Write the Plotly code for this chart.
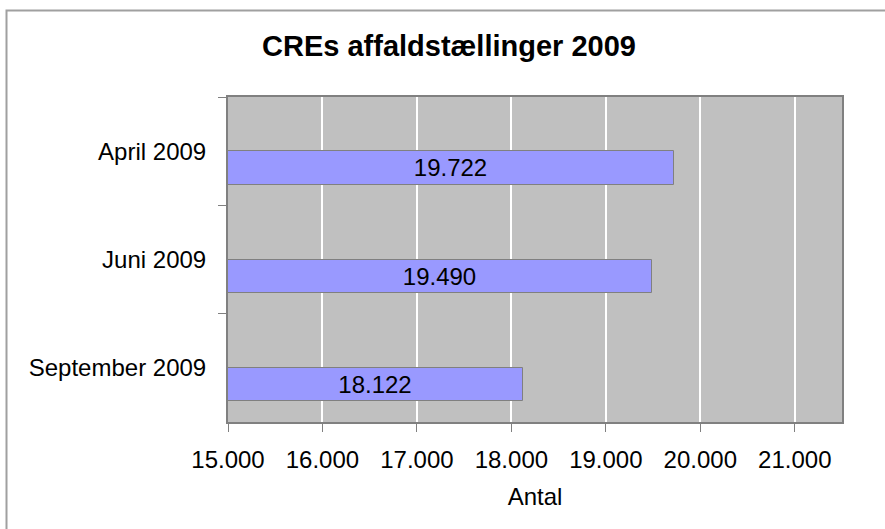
import plotly.graph_objects as go

categories = ["April 2009", "Juni 2009", "September 2009"]
values = [19722, 19490, 18122]
x_ticks = [15000, 16000, 17000, 18000, 19000, 20000, 21000]
x_min, x_max = 15000, 21500

W, H = 885, 529
ML, MR, MT, MB = 228, 43, 97, 107
PW, PH = W - ML - MR, H - MT - MB
FONT = "Liberation Sans, Arial, sans-serif"

fig = go.Figure()
fig.add_trace(go.Bar(
    y=categories,
    x=[v - x_min for v in values],
    base=x_min,
    customdata=values,
    orientation="h",
    offset=0.0, width=0.31,
    marker=dict(color="#9999FF", line=dict(color="#808080", width=1)),
    texttemplate="%{customdata:,.0f}", textposition="inside", insidetextanchor="middle",
    textfont=dict(family=FONT, size=24, color="black"),
    constraintext="none",
    hoverinfo="skip",
))

def px_to_paper_x(px):
    return (px - ML) / PW

def px_to_paper_y(py):
    return 1 - (py - MT) / PH

# outer chart frame (decoration)
fig.add_shape(type="rect", xref="paper", yref="paper",
              x0=px_to_paper_x(6.5), x1=px_to_paper_x(W + 20),
              y0=px_to_paper_y(H + 20), y1=px_to_paper_y(10.5),
              line=dict(color="#A0A0A0", width=2), fillcolor="rgba(0,0,0,0)", layer="below")

fig.update_layout(
    width=W, height=H,
    margin=dict(l=ML, r=MR, t=MT, b=MB, autoexpand=False),
    paper_bgcolor="white", plot_bgcolor="#C0C0C0",
    separators=",.",
    showlegend=False,
    font=dict(family=FONT, size=24, color="black"),
    title=dict(text="<b>CREs affaldstællinger 2009</b>", x=449 / W, xanchor="center",
               xref="container", y=1 - 46 / H, yanchor="middle", yref="container",
               font=dict(family=FONT, size=29, color="black")),
    bargap=0,
)
fig.update_xaxes(
    range=[x_min, x_max],
    tickvals=x_ticks,
    tickformat=",d",
    showgrid=True, gridcolor="white", gridwidth=1.5,
    ticks="outside", ticklen=8, tickcolor="#808080", tickwidth=1,
    showline=True, linecolor="#808080", linewidth=2, mirror=True,
    zeroline=False,
    title=dict(text="Antal", standoff=16, font=dict(size=24)),
    tickfont=dict(size=24), ticklabelstandoff=7,
)
fig.update_yaxes(
    type="category", categoryorder="array", categoryarray=categories,
    autorange="reversed",
    tickson="boundaries", ticks="outside", ticklen=8, tickcolor="#808080", tickwidth=1,
    showgrid=False,
    showline=True, linecolor="#808080", linewidth=2, mirror=True,
    tickfont=dict(size=24), ticklabelstandoff=15,
)

fig.write_html("out.html",
               config={"displayModeBar": False},
               post_script="document.body.style.margin='0';document.body.style.overflow='hidden';")
